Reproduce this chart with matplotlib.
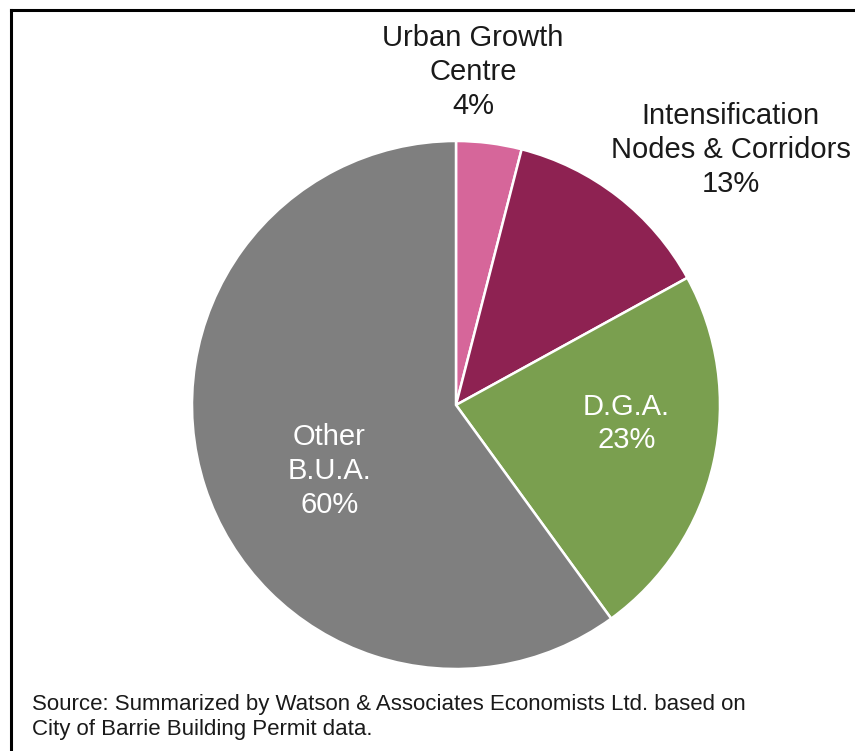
import matplotlib
matplotlib.use("Agg")
import matplotlib.pyplot as plt

categories = ["Urban Growth\nCentre", "Intensification\nNodes & Corridors", "D.G.A.", "Other\nB.U.A."]
shares = [4, 13, 23, 60]
colors = ["#D6669A", "#8E2252", "#7A9F4F", "#7F7F7F"]
text_colors = ["#1a1a1a", "#1a1a1a", "white", "white"]
# label centres relative to the pie centre, in units of the radius
label_pos = [(0.065, 1.26), (1.04, 0.965), (0.645, -0.07), (-0.48, -0.25)]

source = ("Source: Summarized by Watson & Associates Economists Ltd. based on\n"
          "City of Barrie Building Permit data.")

plt.rcParams["font.family"] = ["Liberation Sans", "DejaVu Sans"]

W, H = 855, 751
fig = plt.figure(figsize=(W / 100, H / 100), dpi=100)

cx, cy, r = 456, 405, 264
ax = fig.add_axes([(cx - r) / W, (H - cy - r) / H, 2 * r / W, 2 * r / H])
ax.pie(shares, colors=colors, startangle=90, counterclock=False, radius=1,
       wedgeprops=dict(edgecolor="white", linewidth=1.8))
ax.set_xlim(-1, 1)
ax.set_ylim(-1, 1)
ax.set_aspect("equal")
ax.axis("off")

for cat, val, (x, y), tc in zip(categories, shares, label_pos, text_colors):
    ax.text(x, y, f"{cat}\n{val}%", ha="center", va="center", fontsize=21,
            color=tc, linespacing=1.27, clip_on=False)

fig.text(32 / W, 1 - 717 / H, source, ha="left", va="center", fontsize=16,
         color="#1a1a1a", linespacing=1.25)

# frame (only top and left edges are visible in the crop)
fig.add_artist(plt.Line2D([11 / W, 1], [1 - 10 / H, 1 - 10 / H], color="black", lw=2.2,
                          transform=fig.transFigure))
fig.add_artist(plt.Line2D([11 / W, 11 / W], [0, 1 - 10 / H], color="black", lw=2.2,
                          transform=fig.transFigure))

fig.savefig("out.png", dpi=100, facecolor="white")
